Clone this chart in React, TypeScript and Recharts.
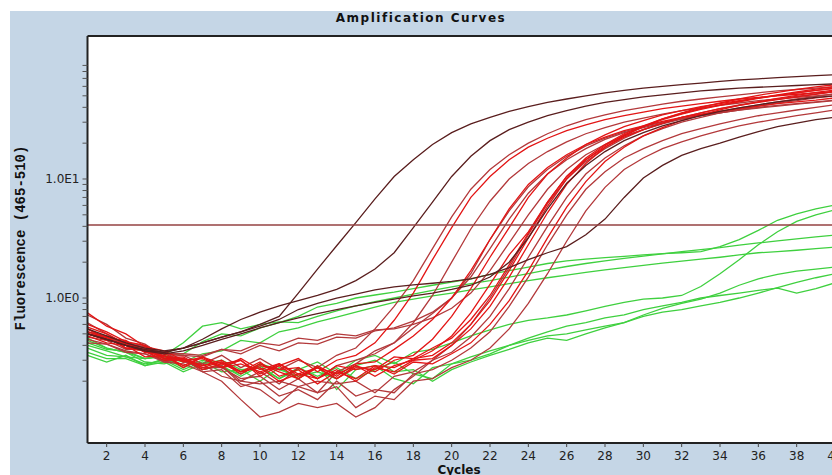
import React from "react";
import { LineChart, Line, XAxis, YAxis, CartesianGrid, ReferenceLine } from "recharts";

// cycle numbers on the x axis
const cycles = [
  1, 2, 3, 4, 5, 6, 7, 8, 9, 10, 11, 12, 13, 14, 15, 16, 17, 18, 19, 20,
  21, 22, 23, 24, 25, 26, 27, 28, 29, 30, 31, 32, 33, 34, 35, 36, 37, 38, 39, 40,
];

const xTicks = [2, 4, 6, 8, 10, 12, 14, 16, 18, 20, 22, 24, 26, 28, 30, 32, 34, 36, 38, 40];
const yTicks = [
  0.2, 0.3, 0.4, 0.5, 0.6, 0.7, 0.8, 0.9, 1, 2, 3, 4, 5, 6, 7, 8, 9, 10, 20, 30, 40, 50, 60, 70, 80, 90,
];
const yMin = 0.0605;
const yMax = 159;
const threshold = 4.1;

// dark (brown) samples
const brown1 = [
  0.55, 0.48, 0.42, 0.38, 0.36, 0.38, 0.42, 0.47, 0.52, 0.6,
  0.7, 1.1, 1.75, 2.75, 4.3, 6.8, 10.5, 14.5, 19.5, 24.5,
  29, 33, 37, 40.5, 44, 47, 50, 53, 55.5, 58,
  60, 62, 64, 66, 68, 69.5, 71, 72.5, 74, 75,
];
const brown2 = [
  0.5, 0.45, 0.4, 0.37, 0.35, 0.38, 0.45, 0.55, 0.66, 0.76,
  0.86, 0.95, 1.05, 1.18, 1.4, 1.75, 2.4, 3.9, 6.4, 10.5,
  15.5, 21, 26, 30, 34, 37.5, 41, 44, 46.5, 49,
  51, 53, 55, 56.5, 58, 59, 60, 61, 62, 63,
];
const brown3 = [
  0.5, 0.45, 0.4, 0.36, 0.35, 0.38, 0.42, 0.47, 0.52, 0.58,
  0.66, 0.8, 0.9, 1.0, 1.08, 1.17, 1.24, 1.29, 1.33, 1.38,
  1.45, 1.58, 1.8, 2.1, 2.4, 2.7, 3.4, 4.6, 7.0, 10.2,
  13, 15.8, 18, 20, 22.5, 25, 27.5, 29.5, 31.5, 33,
];
const brown4 = [
  0.5, 0.45, 0.4, 0.36, 0.34, 0.36, 0.4, 0.45, 0.5, 0.56,
  0.62, 0.68, 0.74, 0.8, 0.86, 0.92, 0.98, 1.04, 1.1, 1.18,
  1.28, 1.5, 2.0, 3.2, 5.6, 9.2, 13, 17, 21, 24.5,
  28, 31, 34, 37, 39.5, 42, 44.5, 46.5, 48.5, 50,
];

// positive samples (red)
const red1 = [
  0.72, 0.6, 0.46, 0.41, 0.32, 0.33, 0.28, 0.33, 0.26, 0.31,
  0.25, 0.3, 0.26, 0.33, 0.38, 0.55, 0.85, 1.4, 2.6, 4.8,
  8.2, 12, 16, 20, 24, 28, 31.5, 34.5, 37.5, 40,
  42.5, 45, 47, 49, 51, 53, 55, 56.5, 58, 59.5,
];
const red2 = [
  0.55, 0.46, 0.44, 0.35, 0.33, 0.27, 0.32, 0.26, 0.3, 0.22,
  0.27, 0.31, 0.24, 0.3, 0.33, 0.42, 0.65, 1.1, 2.1, 3.9,
  7.0, 10.5, 14.5, 18.5, 22, 25.5, 28.5, 31.5, 34, 36.5,
  39, 41, 43, 45, 47, 48.5, 50, 51.5, 53, 54.5,
];
const red3 = [
  0.5, 0.47, 0.38, 0.36, 0.29, 0.31, 0.25, 0.27, 0.2, 0.24,
  0.19, 0.26, 0.21, 0.27, 0.3, 0.34, 0.42, 0.62, 1.05, 2.0,
  3.8, 6.5, 10, 13.5, 17, 20.5, 24, 27, 30, 32.5,
  35, 37.5, 39.5, 41.5, 43.5, 45.5, 47, 48.5, 50, 51.5,
];
const red4 = [
  0.62, 0.5, 0.41, 0.39, 0.31, 0.3, 0.25, 0.27, 0.19, 0.17,
  0.13, 0.18, 0.16, 0.24, 0.28, 0.36, 0.42, 0.56, 0.74, 1.0,
  1.5, 2.6, 4.6, 7.6, 11, 14.5, 18, 21.5, 24.5, 27,
  29.5, 32, 34, 36, 38, 39.5, 41, 42.5, 44, 45.5,
];
const red5 = [
  0.48, 0.42, 0.4, 0.32, 0.33, 0.26, 0.32, 0.28, 0.3, 0.23,
  0.28, 0.22, 0.26, 0.21, 0.27, 0.24, 0.3, 0.33, 0.45, 0.7,
  1.2, 2.2, 3.9, 7.0, 11, 15, 19.5, 23.5, 27.5, 31,
  34.5, 37.5, 40.5, 43, 45.5, 48, 50.5, 53, 55.5, 58,
];
const red6 = [
  0.52, 0.47, 0.38, 0.37, 0.31, 0.32, 0.26, 0.29, 0.23, 0.28,
  0.24, 0.21, 0.26, 0.23, 0.27, 0.22, 0.27, 0.3, 0.36, 0.48,
  0.75, 1.3, 2.3, 3.6, 6.4, 10.5, 15, 19.5, 24, 28,
  32, 35.5, 39, 42, 45, 48, 51, 54, 57, 60,
];
const red7 = [
  0.45, 0.41, 0.36, 0.34, 0.29, 0.28, 0.24, 0.2, 0.14, 0.1,
  0.11, 0.13, 0.12, 0.13, 0.1, 0.12, 0.17, 0.22, 0.3, 0.4,
  0.6, 1.0, 1.8, 3.4, 6.2, 10, 14, 18, 22, 26,
  29.5, 33, 36, 39, 42, 44.5, 47, 49.5, 52, 54.5,
];
const red8 = [
  0.6, 0.52, 0.43, 0.4, 0.31, 0.3, 0.27, 0.3, 0.24, 0.26,
  0.2, 0.23, 0.21, 0.25, 0.2, 0.26, 0.24, 0.3, 0.31, 0.4,
  0.55, 0.85, 1.5, 2.8, 5.2, 9, 13.5, 18.5, 23, 27.5,
  32, 36, 40, 43.5, 47, 50.5, 53.5, 56.5, 59.5, 62,
];
const red9 = [
  0.55, 0.45, 0.43, 0.36, 0.35, 0.29, 0.28, 0.22, 0.2, 0.19,
  0.2, 0.18, 0.2, 0.19, 0.2, 0.16, 0.22, 0.24, 0.3, 0.35,
  0.47, 0.7, 1.2, 2.2, 4.0, 7.0, 11, 15, 19, 23,
  26.5, 30, 33, 36, 38.5, 41, 43.5, 45.5, 48, 50,
];
const red10 = [
  0.5, 0.47, 0.38, 0.36, 0.3, 0.31, 0.25, 0.28, 0.24, 0.29,
  0.22, 0.25, 0.19, 0.24, 0.21, 0.27, 0.23, 0.29, 0.28, 0.34,
  0.42, 0.6, 0.95, 1.7, 3.2, 5.8, 9.5, 14, 18.5, 23,
  27, 31, 34.5, 38, 41.5, 44.5, 47.5, 50.5, 53.5, 56,
];
const red11 = [
  0.47, 0.44, 0.37, 0.37, 0.31, 0.31, 0.24, 0.25, 0.18, 0.2,
  0.15, 0.17, 0.14, 0.2, 0.15, 0.17, 0.16, 0.23, 0.25, 0.3,
  0.38, 0.52, 0.85, 1.5, 2.8, 5.0, 8.2, 11.5, 15, 18,
  21, 24, 26.5, 29, 31.5, 34, 36, 38, 40, 42,
];
const red12 = [
  0.42, 0.41, 0.35, 0.34, 0.3, 0.3, 0.26, 0.26, 0.21, 0.22,
  0.17, 0.21, 0.16, 0.18, 0.12, 0.15, 0.14, 0.2, 0.21, 0.26,
  0.3, 0.38, 0.55, 0.9, 1.6, 3.0, 5.4, 8.5, 12, 15,
  18, 20.5, 23, 25.5, 28, 30, 32, 34, 36, 38,
];
const red13 = [
  0.75, 0.58, 0.5, 0.39, 0.36, 0.3, 0.31, 0.26, 0.28, 0.24,
  0.27, 0.21, 0.27, 0.22, 0.28, 0.29, 0.37, 0.48, 0.66, 1.0,
  1.7, 3.1, 5.6, 9.0, 12.5, 16, 19.5, 22.5, 25.5, 28,
  30.5, 33, 35, 37, 39, 41, 43, 44.5, 46, 48,
];
const red14 = [
  0.52, 0.47, 0.41, 0.39, 0.34, 0.34, 0.33, 0.37, 0.36, 0.42,
  0.4, 0.46, 0.44, 0.5, 0.48, 0.54, 0.55, 0.6, 0.68, 0.82,
  1.1, 1.7, 2.9, 5.0, 8.2, 12, 16, 19.5, 23, 26,
  29, 32, 34.5, 37, 39.5, 42, 44.5, 47, 49.5, 52,
];
const red15 = [
  0.57, 0.5, 0.41, 0.38, 0.32, 0.31, 0.27, 0.29, 0.24, 0.27,
  0.25, 0.26, 0.21, 0.27, 0.25, 0.27, 0.26, 0.31, 0.33, 0.42,
  0.6, 0.95, 1.7, 3.2, 5.9, 10, 14.5, 19, 23.5, 27.5,
  31.5, 35, 38.5, 41.5, 44.5, 47.5, 50.5, 53, 55.5, 58,
];
const red16 = [
  0.5, 0.44, 0.42, 0.35, 0.34, 0.29, 0.32, 0.26, 0.31, 0.25,
  0.28, 0.23, 0.26, 0.21, 0.26, 0.25, 0.32, 0.31, 0.38, 0.46,
  0.66, 1.05, 1.9, 3.5, 6.4, 10.5, 14.5, 18.5, 22.5, 26,
  29.5, 33, 36, 39, 41.5, 44, 46.5, 49, 51.5, 54,
];
const red17 = [
  0.52, 0.48, 0.42, 0.4, 0.34, 0.33, 0.32, 0.37, 0.34, 0.4,
  0.36, 0.42, 0.41, 0.47, 0.46, 0.53, 0.56, 0.64, 0.76, 1.0,
  1.6, 3.1, 5.4, 8.6, 12, 15.5, 19, 22, 25, 27.5,
  30, 32, 34, 36, 38, 40, 41.5, 43, 44.5, 46,
];

// negative samples (green)
const green1 = [
  0.44, 0.38, 0.35, 0.31, 0.33, 0.34, 0.43, 0.5, 0.48, 0.56,
  0.62, 0.7, 0.84, 0.9, 1.0, 1.06, 1.12, 1.2, 1.28, 1.36,
  1.45, 1.58, 1.7, 1.82, 1.95, 2.05, 2.12, 2.18, 2.24, 2.3,
  2.36, 2.4, 2.45, 2.7, 3.1, 3.7, 4.5, 5.1, 5.6, 6.05,
];
const green2 = [
  0.46, 0.38, 0.35, 0.29, 0.28, 0.31, 0.25, 0.27, 0.22, 0.27,
  0.21, 0.25, 0.29, 0.23, 0.3, 0.33, 0.28, 0.35, 0.37, 0.42,
  0.48, 0.54, 0.6, 0.65, 0.68, 0.72, 0.78, 0.85, 0.92, 0.98,
  1.0, 1.05, 1.25, 1.6, 2.1, 2.8, 3.6, 4.4, 5.0, 5.5,
];
const green3 = [
  0.4, 0.36, 0.32, 0.31, 0.33, 0.42, 0.58, 0.62, 0.55, 0.6,
  0.63, 0.62, 0.7, 0.78, 0.86, 0.93, 1.0, 1.08, 1.16, 1.24,
  1.32, 1.4, 1.5, 1.6, 1.72, 1.84, 1.95, 2.05, 2.15, 2.25,
  2.35, 2.45, 2.55, 2.65, 2.78, 2.9, 3.02, 3.14, 3.26, 3.38,
];
const green4 = [
  0.42, 0.37, 0.36, 0.31, 0.32, 0.29, 0.34, 0.36, 0.44, 0.42,
  0.52, 0.56, 0.63, 0.69, 0.76, 0.84, 0.92, 0.98, 1.04, 1.1,
  1.17, 1.24, 1.32, 1.4, 1.48, 1.56, 1.64, 1.72, 1.8, 1.88,
  1.96, 2.04, 2.12, 2.2, 2.3, 2.4, 2.45, 2.52, 2.6, 2.68,
];
const green5 = [
  0.38, 0.33, 0.32, 0.28, 0.3, 0.25, 0.29, 0.24, 0.25, 0.2,
  0.26, 0.21, 0.27, 0.17, 0.25, 0.27, 0.21, 0.19, 0.26, 0.28,
  0.32, 0.36, 0.4, 0.44, 0.48, 0.5, 0.54, 0.58, 0.62, 0.72,
  0.82, 0.9, 0.98, 1.1, 1.28, 1.45, 1.58, 1.68, 1.75, 1.82,
];
const green6 = [
  0.35, 0.31, 0.31, 0.27, 0.29, 0.24, 0.28, 0.3, 0.25, 0.26,
  0.21, 0.26, 0.22, 0.26, 0.21, 0.25, 0.29, 0.23, 0.21, 0.28,
  0.3, 0.34, 0.4, 0.46, 0.52, 0.58, 0.62, 0.68, 0.72, 0.8,
  0.86, 0.92, 1.0, 1.05, 1.1, 1.16, 1.21, 1.1, 1.2, 1.34,
];
const green7 = [
  0.33, 0.29, 0.33, 0.27, 0.31, 0.26, 0.3, 0.26, 0.23, 0.28,
  0.25, 0.22, 0.24, 0.21, 0.27, 0.3, 0.24, 0.25, 0.2, 0.25,
  0.29, 0.33, 0.37, 0.42, 0.46, 0.44, 0.5, 0.56, 0.62, 0.7,
  0.76, 0.8, 0.86, 0.92, 1.0, 1.1, 1.22, 1.35, 1.48, 1.6,
];

const BROWN = "#5a1e1e";
const DARKRED = "#b3393b";
const RED = "#e31515";
const GREEN = "#3fd03f";

const series = [
  { key: "green1", values: green1, color: GREEN },
  { key: "green2", values: green2, color: GREEN },
  { key: "green3", values: green3, color: GREEN },
  { key: "green4", values: green4, color: GREEN },
  { key: "green5", values: green5, color: GREEN },
  { key: "green6", values: green6, color: GREEN },
  { key: "green7", values: green7, color: GREEN },
  { key: "red1", values: red1, color: DARKRED },
  { key: "red3", values: red3, color: DARKRED },
  { key: "red4", values: red4, color: DARKRED },
  { key: "red7", values: red7, color: DARKRED },
  { key: "red9", values: red9, color: DARKRED },
  { key: "red11", values: red11, color: DARKRED },
  { key: "red12", values: red12, color: DARKRED },
  { key: "red14", values: red14, color: DARKRED },
  { key: "red17", values: red17, color: DARKRED },
  { key: "red2", values: red2, color: RED },
  { key: "red5", values: red5, color: RED },
  { key: "red6", values: red6, color: RED },
  { key: "red8", values: red8, color: RED },
  { key: "red10", values: red10, color: RED },
  { key: "red13", values: red13, color: RED },
  { key: "red15", values: red15, color: RED },
  { key: "red16", values: red16, color: RED },
  { key: "brown1", values: brown1, color: BROWN },
  { key: "brown2", values: brown2, color: BROWN },
  { key: "brown3", values: brown3, color: BROWN },
  { key: "brown4", values: brown4, color: BROWN },
];

const rows = cycles.map((c, i) => {
  const row: Record<string, number> = { cycle: c };
  series.forEach((s) => {
    row[s.key] = s.values[i];
  });
  return row;
});

const yTickLabel = (v: number) => (v === 1 ? "1.0E0" : v === 10 ? "1.0E1" : "");

const YTitle = () => (
  <text
    x={11}
    y={227}
    transform="rotate(-90 11 227)"
    textAnchor="middle"
    dominantBaseline="central"
    fontFamily="'Courier New', 'Liberation Mono', monospace"
    fontWeight="bold"
    fontSize={14}
    fill="#111"
  >
    Fluorescence (465-510)
  </text>
);

const XTitle = () => (
  <text
    x={449}
    y={463}
    textAnchor="middle"
    fontFamily="'DejaVu Sans', sans-serif"
    fontWeight="bold"
    fontSize={12}
    fill="#111"
  >
    Cycles
  </text>
);

export default function App() {
  return (
    <div
      style={{
        position: "absolute",
        left: 10,
        top: 11,
        width: 822,
        height: 464,
        overflow: "hidden",
        background: "#c5d6e6",
      }}
    >
      <style>{`html,body{margin:0;overflow:hidden}`}</style>
      <div
        style={{
          position: "absolute",
          left: 0,
          top: 0,
          width: 822,
          textAlign: "center",
          fontFamily: "'DejaVu Sans', sans-serif",
          fontWeight: "bold",
          fontSize: 12,
          letterSpacing: "1.5px",
          lineHeight: "15px",
          color: "#111",
        }}
      >
        Amplification Curves
      </div>
      <LineChart
        width={840}
        height={464}
        data={rows}
        margin={{ top: 25, right: 15, bottom: 12, left: 17.5 }}
      >
        <CartesianGrid fill="#ffffff" stroke="none" horizontal={false} vertical={false} />
        <XAxis
          dataKey="cycle"
          type="number"
          domain={[1, 40]}
          ticks={xTicks}
          interval={0}
          height={20}
          tickSize={4}
          tickMargin={4}
          axisLine={{ stroke: "#222", strokeWidth: 2 }}
          tickLine={{ stroke: "#444" }}
          tick={{ fontSize: 12, fill: "#222", fontFamily: "'DejaVu Sans', sans-serif" }}
          label={<XTitle />}
        />
        <YAxis
          type="number"
          scale="log"
          domain={[yMin, yMax]}
          allowDataOverflow
          ticks={yTicks}
          interval={0}
          width={60}
          tickSize={5}
          tickMargin={3}
          tickFormatter={yTickLabel}
          axisLine={{ stroke: "#222", strokeWidth: 2 }}
          tickLine={{ stroke: "#555" }}
          tick={{ fontSize: 12, fill: "#222", fontFamily: "'DejaVu Sans', sans-serif" }}
          label={<YTitle />}
        />
        <ReferenceLine y={yMax} stroke="#222" strokeWidth={2} ifOverflow="visible" />
        {series.map((s) => (
          <Line
            key={s.key}
            dataKey={s.key}
            type="linear"
            stroke={s.color}
            strokeWidth={1.3}
            dot={false}
            activeDot={false}
            isAnimationActive={false}
          />
        ))}
        <ReferenceLine y={threshold} stroke="#944242" strokeWidth={1.6} ifOverflow="visible" />
      </LineChart>
    </div>
  );
}
